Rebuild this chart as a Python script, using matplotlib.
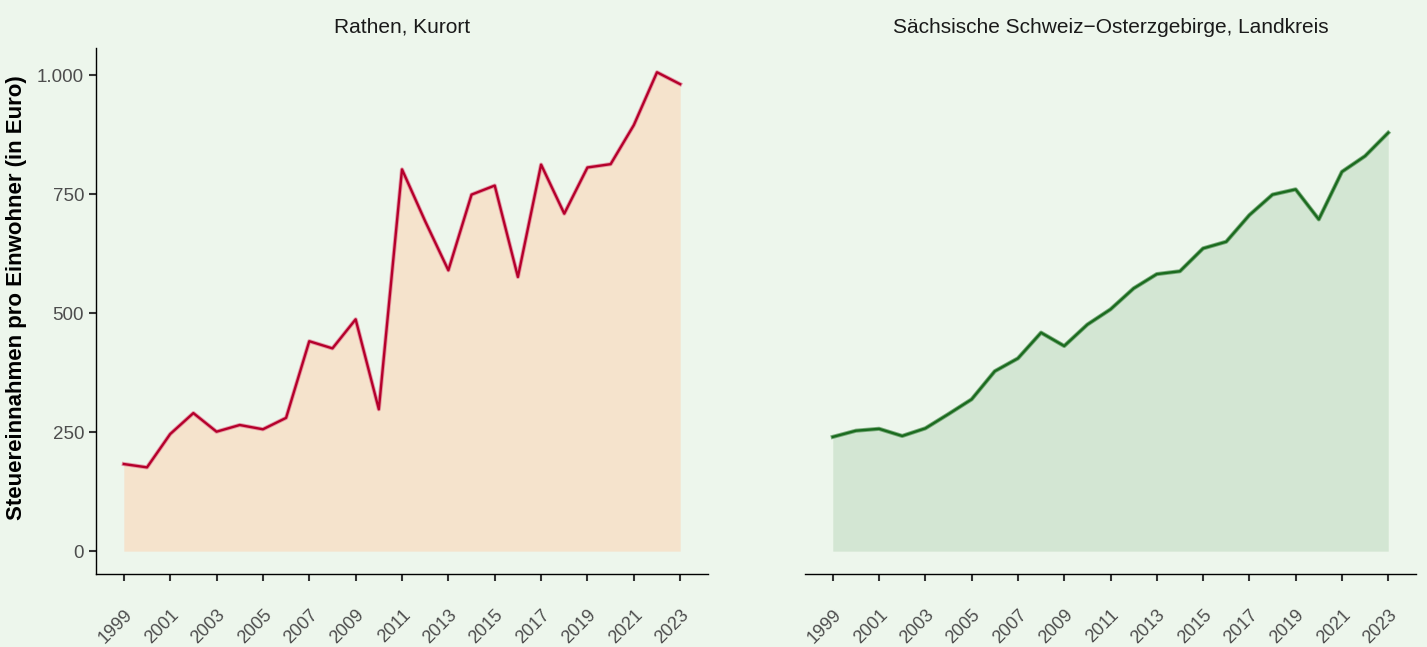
import matplotlib
matplotlib.use("Agg")
import matplotlib.pyplot as plt
import numpy as np

years = list(range(1999, 2024))
rathen = [183, 176, 246, 290, 251, 265, 256, 280, 441, 426, 487, 298, 802, 693,
          590, 749, 768, 576, 812, 709, 806, 813, 895, 1006, 981]
landkreis = [240, 253, 257, 242, 258, 288, 319, 378, 405, 459, 431, 476, 508, 552,
             582, 588, 636, 650, 706, 749, 760, 697, 797, 830, 879]
titles = ["Rathen, Kurort", "Sächsische Schweiz\u2212Osterzgebirge, Landkreis"]
ylabel = "Steuereinnahmen pro Einwohner (in Euro)"
yticks = [0, 250, 500, 750, 1000]
yticklabels = ["0", "250", "500", "750", "1.000"]
xticks = list(range(1999, 2024, 2))

plt.rcParams['font.family'] = ['Liberation Sans', 'DejaVu Sans']
bg = '#EDF6EC'
fig = plt.figure(figsize=(14.27, 6.47), dpi=100, facecolor=bg)

W, H = 1427, 647
ax1 = fig.add_axes([96 / W, 1 - 574 / H, (708 - 96) / W, (574 - 48) / H])
ax2 = fig.add_axes([805 / W, 1 - 574 / H, (1416 - 805) / W, (574 - 48) / H])

specs = [
    (ax1, rathen, '#F5E3CC', '#B5002B', '#E07890'),
    (ax2, landkreis, '#D3E6D3', '#1B6B1F', '#4E8F50'),
]
for i, (ax, vals, fillc, linec, edgec) in enumerate(specs):
    ax.set_facecolor(bg)
    ax.fill_between(years, 0, vals, color=fillc, lw=0)
    ax.plot(years, vals, color=edgec, lw=3.0, alpha=0.7, solid_joinstyle='round')
    ax.plot(years, vals, color=linec, lw=1.7, solid_joinstyle='round')
    ax.set_xlim(1997.8, 2024.2)
    ax.set_ylim(-48, 1057)
    ax.set_xticks(xticks)
    ax.set_xticklabels([str(x) for x in xticks], rotation=45, ha='right',
                       va='top', rotation_mode='anchor', color='#4D4D4D', fontsize=13)
    ax.tick_params(axis='x', length=5, width=1.5, color='#333333', pad=18.5)
    for s in ['top', 'right']:
        ax.spines[s].set_visible(False)
    ax.spines['bottom'].set_color('black')
    ax.spines['bottom'].set_linewidth(1.0)
    ax.set_title(titles[i], fontsize=15, color='#1A1A1A', pad=11)

ax1.set_yticks(yticks)
ax1.set_yticklabels(yticklabels, color='#4D4D4D', fontsize=13.5)
ax1.tick_params(axis='y', length=5, width=1.5, color='#333333', pad=3.5)
ax1.spines['left'].set_color('black')
ax1.spines['left'].set_linewidth(1.0)
ax1.set_ylabel(ylabel, fontsize=16, fontweight='bold', color='black')
ax1.yaxis.set_label_coords((27 - 96) / 612, (574 - 298) / 526)

ax2.spines['left'].set_visible(False)
ax2.set_yticks([])

fig.savefig('out.png', dpi=100, facecolor=bg)
